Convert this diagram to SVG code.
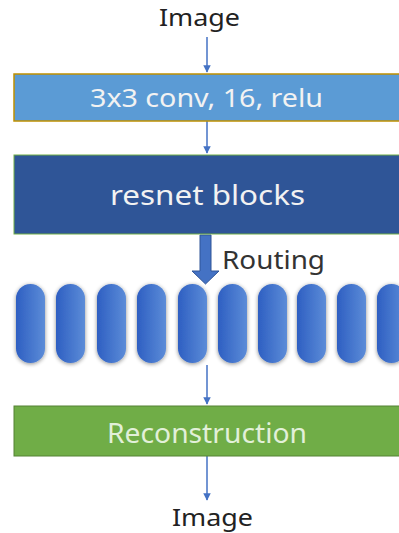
<svg xmlns="http://www.w3.org/2000/svg" width="399" height="533" viewBox="0 0 399 533">
<defs>
<style>
.t{font-family:"Noto Sans","Open Sans",sans-serif;}
.conn{stroke:#4472C4;stroke-width:1.5;fill:none;}
</style>
<marker id="ah" viewBox="0 0 10 10" refX="9" refY="5" markerWidth="5" markerHeight="5" orient="auto"><path d="M0,0 L10,5 L0,10 z" fill="#4472C4"/></marker>
<linearGradient id="pg" x1="0" y1="0" x2="1" y2="0">
<stop offset="0" stop-color="#2E5FC2"/>
<stop offset="1" stop-color="#5C8CD8"/>
</linearGradient>
<filter id="sh" x="-50%" y="-20%" width="200%" height="140%">
<feGaussianBlur in="SourceAlpha" stdDeviation="2"/>
<feOffset dx="0" dy="1" result="b"/>
<feComponentTransfer><feFuncA type="linear" slope="0.45"/></feComponentTransfer>
<feMerge><feMergeNode/><feMergeNode in="SourceGraphic"/></feMerge>
</filter>
</defs>
<rect width="399" height="533" fill="#fff"/>
<g id="connectors">
<line class="conn" x1="207" y1="37" x2="207" y2="72" marker-end="url(#ah)"/>
<line class="conn" x1="207" y1="121" x2="207" y2="153" marker-end="url(#ah)"/>
<path d="M200,235 H211 V271 H219 L205.5,284 L192,271 H200 Z" fill="#4472C4" stroke="#2F5597" stroke-width="1"/>
<line class="conn" x1="207" y1="365" x2="207" y2="404" marker-end="url(#ah)"/>
<line class="conn" x1="207" y1="456" x2="207" y2="500" marker-end="url(#ah)"/>
</g>
<g id="input"><text class="t" x="159" y="26" font-size="24" textLength="81" lengthAdjust="spacingAndGlyphs" fill="#222">Image</text></g>
<g id="conv">
<rect x="14" y="74" width="400" height="47" fill="#5B9BD5" stroke="#BF9000" stroke-width="1.5"/>
<text class="t" x="90" y="107" font-size="26" textLength="233" lengthAdjust="spacingAndGlyphs" fill="#F2F2F2">3x3 conv, 16, relu</text>
</g>
<g id="resnet">
<rect x="14" y="155" width="400" height="79" fill="#2F5597" stroke="#70AD47" stroke-width="1"/>
<text class="t" x="110" y="205" font-size="28" textLength="195" lengthAdjust="spacingAndGlyphs" fill="#F2F2F2">resnet blocks</text>
</g>
<g id="routing-label"><text class="t" x="222" y="269" font-size="26" textLength="103" lengthAdjust="spacingAndGlyphs" fill="#333">Routing</text></g>
<g id="capsules" filter="url(#sh)" fill="url(#pg)">
<rect x="16" y="284" width="29" height="79" rx="14.5"/>
<rect x="56" y="284" width="29" height="79" rx="14.5"/>
<rect x="97" y="284" width="29" height="79" rx="14.5"/>
<rect x="137" y="284" width="29" height="79" rx="14.5"/>
<rect x="178" y="284" width="29" height="79" rx="14.5"/>
<rect x="218" y="284" width="29" height="79" rx="14.5"/>
<rect x="258" y="284" width="29" height="79" rx="14.5"/>
<rect x="297" y="284" width="29" height="79" rx="14.5"/>
<rect x="337" y="284" width="29" height="79" rx="14.5"/>
<rect x="377" y="284" width="29" height="79" rx="14.5"/>
</g>
<g id="reconstruction">
<rect x="14" y="406" width="400" height="50" fill="#70AD47" stroke="#548235" stroke-width="1"/>
<text class="t" x="107" y="443" font-size="27" textLength="200" lengthAdjust="spacingAndGlyphs" fill="#E2F0D9">Reconstruction</text>
</g>
<g id="output"><text class="t" x="172" y="526" font-size="24" textLength="81" lengthAdjust="spacingAndGlyphs" fill="#222">Image</text></g>
</svg>
